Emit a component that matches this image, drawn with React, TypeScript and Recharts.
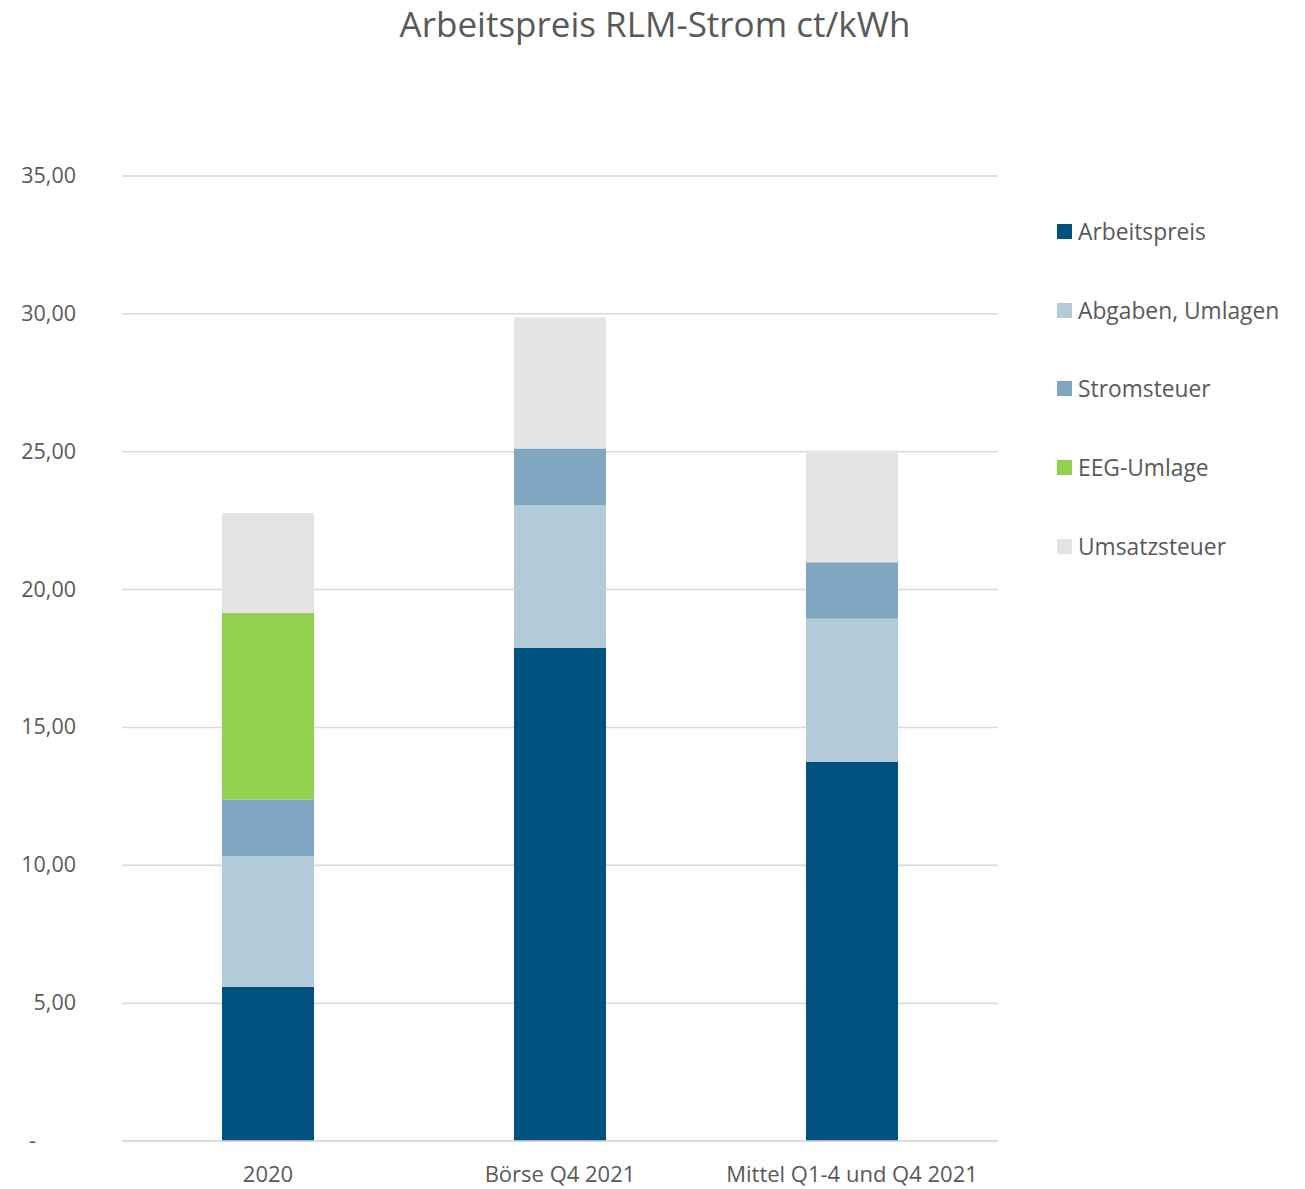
import { BarChart, Bar, XAxis, YAxis, CartesianGrid } from "recharts";

const categories = ["2020", "Börse Q4 2021", "Mittel Q1-4 und Q4 2021"];
const arbeitspreis = [5.59, 17.88, 13.75];
const abgaben = [4.75, 5.19, 5.19];
const stromsteuer = [2.05, 2.05, 2.05];
const eegUmlage = [6.76, 0, 0];
const umsatzsteuer = [3.63, 4.75, 3.98];
const yTicks = [0, 5, 10, 15, 20, 25, 30, 35];

const SERIES = [
  { key: "Arbeitspreis", color: "#00517f" },
  { key: "Abgaben, Umlagen", color: "#b3cad8" },
  { key: "Stromsteuer", color: "#7fa7c1" },
  { key: "EEG-Umlage", color: "#92d050" },
  { key: "Umsatzsteuer", color: "#e5e4e2" },
];

const chartData = categories.map((name, i) => ({
  name,
  Arbeitspreis: arbeitspreis[i],
  "Abgaben, Umlagen": abgaben[i],
  Stromsteuer: stromsteuer[i],
  "EEG-Umlage": eegUmlage[i],
  Umsatzsteuer: umsatzsteuer[i],
}));

const FONT = "'Open Sans', 'Noto Sans', sans-serif";
const TEXT = "#595959";

// eslint-disable-next-line @typescript-eslint/no-explicit-any
const YTick = (props: any) => {
  const { x, y, payload } = props;
  const v = payload.value as number;
  const label = v === 0 ? "-" : v.toFixed(2).replace(".", ",");
  return (
    <text x={v === 0 ? x - 40 : x} y={y} dy={7} textAnchor="end" fill={TEXT} fontSize={21.5} fontFamily={FONT}>
      {label}
    </text>
  );
};

export default function App() {
  return (
    <div style={{ position: "absolute", left: 0, top: 0, width: 1305, height: 1189, background: "#fff", overflow: "hidden" }}>
      <div
        style={{
          position: "absolute",
          top: 0,
          left: 5,
          width: 1300,
          textAlign: "center",
          fontFamily: FONT,
          fontSize: 35,
          color: TEXT,
          lineHeight: "normal",
        }}
      >
        Arbeitspreis RLM-Strom ct/kWh
      </div>

      {/* legend, drawn outside the chart so it doesn't eat plot width */}
      <div
        style={{
          position: "absolute",
          left: 1057,
          top: 192,
          fontFamily: FONT,
          color: TEXT,
          fontSize: 22.8,
        }}
      >
        {SERIES.map((s) => (
          <div key={s.key} style={{ display: "flex", alignItems: "center", height: 78.8, whiteSpace: "nowrap" }}>
            <span style={{ width: 15, height: 15, background: s.color, marginRight: 6, display: "inline-block" }} />
            <span>{s.key}</span>
          </div>
        ))}
      </div>

      <BarChart
        width={1305}
        height={1189}
        data={chartData}
        margin={{ top: 176, right: 307, left: 62, bottom: 18 }}
        barSize={92}
      >
        <CartesianGrid vertical={false} stroke="#d9d9d9" strokeWidth={1.5} />
        <XAxis
          dataKey="name"
          axisLine={{ stroke: "#d9d9d9", strokeWidth: 1.5 }}
          tickLine={false}
          height={30}
          tickMargin={19}
          tick={{ fill: TEXT, fontSize: 22, fontFamily: FONT }}
        />
        <YAxis
          width={60}
          domain={[0, 35]}
          ticks={yTicks}
          axisLine={false}
          tickLine={false}
          tickMargin={40}
          tick={<YTick />}
        />
        {SERIES.map((s) => (
          <Bar key={s.key} dataKey={s.key} stackId="a" fill={s.color} isAnimationActive={false} />
        ))}
      </BarChart>
    </div>
  );
}
